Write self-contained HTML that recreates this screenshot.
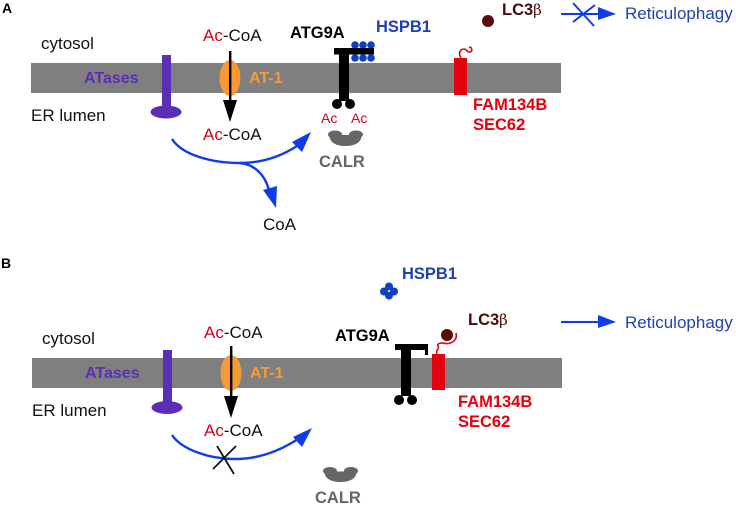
<!DOCTYPE html>
<html>
<head>
<meta charset="utf-8">
<style>
html,body{margin:0;padding:0;background:#fff;width:736px;height:505px;overflow:hidden}
svg{display:block;filter:blur(0.3px)}
text{font-family:"Liberation Sans",sans-serif;font-size:17px;fill:#111}
.b{font-weight:bold;font-size:16.5px}
.p{fill:#5b2fb5;font-size:16px}
.o{fill:#f79a34;font-size:16px}
.r{fill:#e3000f}
.bl{fill:#1f3fb5}
.g{fill:#666}
.m{fill:#4a0a0a}
.ac{fill:#d0021b;font-size:14px}
.rt{fill:#2040b5}
.sym{font-family:"DejaVu Serif","Liberation Serif",serif;font-weight:normal}
</style>
</head>
<body>
<svg width="736" height="505" viewBox="0 0 736 505" xmlns="http://www.w3.org/2000/svg">
<!-- PANEL A -->
<text x="2" y="13" class="b" style="font-size:14px;fill:#000">A</text>
<rect x="31" y="63" width="530" height="30" fill="#7f7f7f"/>
<text x="41" y="49">cytosol</text>
<text x="31" y="121">ER lumen</text>
<text x="84" y="83" class="b p">ATases</text>
<rect x="162" y="55" width="9" height="55" fill="#5b2fb5"/>
<ellipse cx="166" cy="112" rx="15.5" ry="6.5" fill="#5b2fb5"/>
<ellipse cx="230" cy="78" rx="10.5" ry="18" fill="#f79a34"/>
<text x="249" y="83" class="b o">AT-1</text>
<text x="203" y="41"><tspan fill="#d0021b">Ac</tspan>-CoA</text>
<text x="203" y="140"><tspan fill="#d0021b">Ac</tspan>-CoA</text>
<rect x="229" y="51" width="2.400" height="50" fill="#000"/>
<polygon points="223,100 237,100 230,122" fill="#000"/>
<path d="M172,139 C182,155 212,163 240,163 C260,163 280,157 297,146" fill="none" stroke="#0f3be8" stroke-width="2.400"/>
<polygon points="311,132 292,142 302,152" fill="#0f3be8"/>
<path d="M240,163 C252,164 264,172 269,190" fill="none" stroke="#0f3be8" stroke-width="2.400"/>
<polygon points="263,190 277,186 276,208" fill="#0f3be8"/>
<text x="263" y="230">CoA</text>
<text x="290" y="38" class="b" style="fill:#000">ATG9A</text>
<text x="376" y="32" class="b bl">HSPB1</text>
<g fill="#1040c0">
<circle cx="355" cy="45" r="3.800"/><circle cx="363" cy="45" r="3.800"/><circle cx="371" cy="45" r="3.800"/>
<circle cx="355" cy="58" r="3.800"/><circle cx="363" cy="58" r="3.800"/><circle cx="371" cy="58" r="3.800"/>
</g>
<rect x="334" y="48" width="40" height="6.500" fill="#000"/>
<rect x="339" y="54" width="10" height="47" fill="#000"/>
<circle cx="337" cy="104" r="5" fill="#000"/><circle cx="350" cy="104" r="5" fill="#000"/>
<text x="321" y="123" class="ac">Ac</text>
<text x="351" y="123" class="ac">Ac</text>
<g fill="#666">
<ellipse cx="335" cy="134.500" rx="7" ry="4"/><ellipse cx="356" cy="134.500" rx="7" ry="4"/>
<path d="M330,134 C336,135 341,135 345.500,135 C350,135 355,135 361,134 C363,142 355,146 345.500,146 C336,146 328,142 330,134Z"/>
</g>
<text x="319" y="167" class="b g">CALR</text>
<rect x="454" y="58" width="13" height="37" fill="#e3000f"/>
<path d="M461,58 C458,53 460,49 464,49 C467,49 467,53 470,52 C473,51 472,47 469,47" fill="none" stroke="#e3000f" stroke-width="1.600"/>
<text x="473" y="110" class="b r">FAM134B</text>
<text x="473" y="130" class="b r">SEC62</text>
<circle cx="488" cy="21" r="6" fill="#5a0a0a"/>
<text x="502" y="15" class="b m">LC3<tspan class="sym" font-size="15">β</tspan></text>
<line x1="561" y1="14" x2="600" y2="14" stroke="#0f3be8" stroke-width="2"/>
<polygon points="598,7 616,14 598,20" fill="#0f3be8"/>
<line x1="573" y1="3" x2="594" y2="26" stroke="#0f3be8" stroke-width="2"/>
<line x1="573" y1="22" x2="595" y2="5" stroke="#0f3be8" stroke-width="2"/>
<text x="625" y="19" class="rt">Reticulophagy</text>

<!-- PANEL B -->
<text x="1" y="268" class="b" style="font-size:14px;fill:#000">B</text>
<rect x="32" y="358" width="530" height="30" fill="#7f7f7f"/>
<text x="42" y="344">cytosol</text>
<text x="32" y="416">ER lumen</text>
<text x="85" y="378" class="b p">ATases</text>
<rect x="163" y="350" width="9" height="55" fill="#5b2fb5"/>
<ellipse cx="167" cy="407.500" rx="15.500" ry="6.500" fill="#5b2fb5"/>
<ellipse cx="231" cy="373" rx="10.500" ry="18" fill="#f79a34"/>
<text x="250" y="378" class="b o">AT-1</text>
<text x="204" y="338"><tspan fill="#d0021b">Ac</tspan>-CoA</text>
<text x="204" y="436"><tspan fill="#d0021b">Ac</tspan>-CoA</text>
<rect x="230" y="346" width="2.400" height="51" fill="#000"/>
<polygon points="224,396 238,396 231,418" fill="#000"/>
<path d="M172,435 C182,450 210,459 235,459 C258,459 278,452 298,439" fill="none" stroke="#0f3be8" stroke-width="2.400"/>
<polygon points="312,428 293,437 302,447" fill="#0f3be8"/>
<line x1="217" y1="446" x2="234" y2="474" stroke="#111" stroke-width="1.800"/>
<line x1="213" y1="469" x2="236" y2="446" stroke="#111" stroke-width="1.800"/>
<g fill="#666">
<ellipse cx="330" cy="471" rx="7" ry="4"/><ellipse cx="351" cy="471" rx="7" ry="4"/>
<path d="M325,470.500 C331,471.500 336,471.500 340.500,471.500 C345,471.500 350,471.500 356,470.500 C358,478 350,482 340.500,482 C331,482 323,478 325,470.500Z"/>
</g>
<text x="315" y="503" class="b g">CALR</text>
<text x="402" y="279" class="b bl">HSPB1</text>
<g fill="#1040c0">
<circle cx="389" cy="286.500" r="4"/><circle cx="384" cy="291.500" r="4"/><circle cx="394" cy="291.500" r="4"/><circle cx="389" cy="295.500" r="4"/>
</g>
<circle cx="389" cy="291" r="1" fill="#fff"/>
<text x="335" y="341" class="b" style="fill:#000">ATG9A</text>
<path d="M395,344 H428 V355 H425 V350 H411 V396 H401 V350 H395Z" fill="#000"/>
<circle cx="399" cy="400" r="5" fill="#000"/><circle cx="412" cy="400" r="5" fill="#000"/>
<rect x="432" y="354" width="13" height="36" fill="#e3000f"/>
<path d="M437,354 C435,350 440,349 438,346 C437,343 441,343 443,343 C450,345 458,341 456,333" fill="none" stroke="#e3000f" stroke-width="1.600"/>
<circle cx="447" cy="335" r="6" fill="#5a0a0a"/>
<text x="468" y="325" class="b m">LC3<tspan class="sym" font-size="15">β</tspan></text>
<text x="458" y="407" class="b r">FAM134B</text>
<text x="458" y="427" class="b r">SEC62</text>
<line x1="561" y1="322" x2="600" y2="322" stroke="#0f3be8" stroke-width="2"/>
<polygon points="598,315 616,322 598,328" fill="#0f3be8"/>
<text x="625" y="328" class="rt">Reticulophagy</text>
</svg>
</body>
</html>
